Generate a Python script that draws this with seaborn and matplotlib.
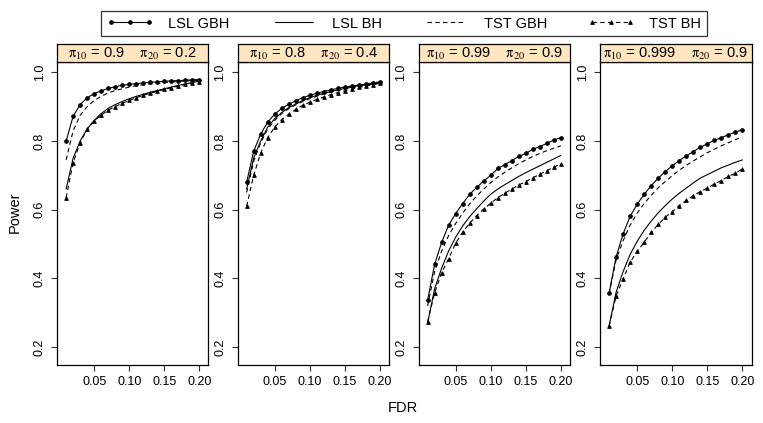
import pandas as pd
import seaborn as sns
import matplotlib.pyplot as plt

# FDR levels on the x axis
fdr = [0.01, 0.02, 0.03, 0.04, 0.05, 0.06, 0.07, 0.08, 0.09, 0.10,
       0.11, 0.12, 0.13, 0.14, 0.15, 0.16, 0.17, 0.18, 0.19, 0.20]

# panel settings
pi10 = ['0.9', '0.8', '0.99', '0.999']
pi20 = ['0.2', '0.4', '0.9', '0.9']

# power values, one list per panel
lsl_gbh = [
    [0.800, 0.872, 0.906, 0.926, 0.938, 0.946, 0.953, 0.958, 0.962, 0.965,
     0.967, 0.969, 0.971, 0.972, 0.974, 0.975, 0.976, 0.977, 0.978, 0.979],
    [0.680, 0.770, 0.820, 0.855, 0.878, 0.895, 0.907, 0.917, 0.926, 0.933,
     0.939, 0.944, 0.949, 0.953, 0.957, 0.960, 0.963, 0.966, 0.969, 0.972],
    [0.337, 0.441, 0.505, 0.555, 0.589, 0.618, 0.645, 0.665, 0.684, 0.700,
     0.720, 0.731, 0.743, 0.755, 0.764, 0.776, 0.784, 0.793, 0.803, 0.810],
    [0.358, 0.463, 0.530, 0.581, 0.616, 0.645, 0.670, 0.692, 0.711, 0.728,
     0.743, 0.757, 0.769, 0.782, 0.792, 0.802, 0.810, 0.818, 0.826, 0.833],
]
lsl_bh = [
    [0.660, 0.750, 0.800, 0.835, 0.860, 0.880, 0.895, 0.906, 0.915, 0.923,
     0.930, 0.936, 0.942, 0.947, 0.952, 0.957, 0.962, 0.966, 0.970, 0.975],
    [0.660, 0.750, 0.800, 0.840, 0.865, 0.883, 0.897, 0.908, 0.918, 0.926,
     0.933, 0.939, 0.944, 0.949, 0.953, 0.957, 0.961, 0.964, 0.967, 0.970],
    [0.270, 0.370, 0.430, 0.480, 0.520, 0.553, 0.580, 0.603, 0.625, 0.645,
     0.660, 0.673, 0.685, 0.697, 0.708, 0.718, 0.728, 0.738, 0.748, 0.758],
    [0.262, 0.360, 0.420, 0.470, 0.508, 0.540, 0.567, 0.591, 0.612, 0.631,
     0.648, 0.663, 0.678, 0.692, 0.702, 0.712, 0.722, 0.730, 0.738, 0.745],
]
tst_gbh = [
    [0.745, 0.830, 0.875, 0.900, 0.918, 0.930, 0.940, 0.947, 0.952, 0.957,
     0.961, 0.964, 0.966, 0.968, 0.970, 0.972, 0.973, 0.975, 0.976, 0.977],
    [0.650, 0.740, 0.795, 0.835, 0.860, 0.880, 0.894, 0.905, 0.915, 0.923,
     0.930, 0.937, 0.942, 0.947, 0.951, 0.955, 0.959, 0.963, 0.966, 0.970],
    [0.320, 0.420, 0.480, 0.525, 0.560, 0.590, 0.617, 0.640, 0.660, 0.679,
     0.695, 0.709, 0.722, 0.734, 0.745, 0.755, 0.764, 0.772, 0.779, 0.786],
    [0.355, 0.455, 0.510, 0.555, 0.590, 0.618, 0.642, 0.664, 0.682, 0.699,
     0.715, 0.729, 0.742, 0.754, 0.766, 0.776, 0.786, 0.795, 0.804, 0.812],
]
tst_bh = [
    [0.635, 0.737, 0.795, 0.835, 0.858, 0.875, 0.890, 0.900, 0.910, 0.918,
     0.926, 0.933, 0.939, 0.945, 0.950, 0.955, 0.960, 0.965, 0.969, 0.973],
    [0.610, 0.700, 0.765, 0.810, 0.840, 0.862, 0.878, 0.892, 0.904, 0.913,
     0.921, 0.928, 0.935, 0.941, 0.946, 0.951, 0.956, 0.960, 0.964, 0.968],
    [0.274, 0.358, 0.417, 0.458, 0.503, 0.535, 0.561, 0.583, 0.602, 0.619,
     0.635, 0.648, 0.660, 0.672, 0.682, 0.693, 0.703, 0.714, 0.724, 0.734],
    [0.262, 0.349, 0.399, 0.447, 0.479, 0.505, 0.534, 0.557, 0.578, 0.594,
     0.612, 0.627, 0.641, 0.653, 0.663, 0.675, 0.685, 0.697, 0.706, 0.719],
]

methods = ['LSL GBH', 'LSL BH', 'TST GBH', 'TST BH']
series = [lsl_gbh, lsl_bh, tst_gbh, tst_bh]
line_styles = {'LSL GBH': ('-', 'o'), 'LSL BH': ('-', None),
               'TST GBH': ((0, (4, 3)), None), 'TST BH': ((0, (4, 3)), '^')}

rows = []
for m, vals in zip(methods, series):
    for p in range(4):
        for x, y in zip(fdr, vals[p]):
            rows.append({'panel': p, 'method': m, 'FDR': x, 'Power': y})
df = pd.DataFrame(rows)

sns.set_style('white')
plt.rcParams['font.family'] = ['Liberation Sans', 'DejaVu Sans']
plt.rcParams['mathtext.fontset'] = 'stix'
plt.rcParams['text.color'] = 'black'
plt.rcParams['xtick.color'] = 'black'
plt.rcParams['ytick.color'] = 'black'

fig = plt.figure(figsize=(7.63, 4.23), dpi=100)
W, H = 763, 423
lefts = [57, 237.5, 418.5, 600]
pw = 151.5
top, bottom = 62, 365
strip_top = 44

axes = []
for p in range(4):
    ax = fig.add_axes([lefts[p] / W, 1 - bottom / H, pw / W, (bottom - top) / H])
    axes.append(ax)
    sub = df[df['panel'] == p]
    for m in methods:
        ls, mk = line_styles[m]
        d = sub[sub['method'] == m]
        sns.lineplot(data=d, x='FDR', y='Power', ax=ax, color='black',
                     linewidth=0.8, marker=mk, markersize=2.7,
                     markeredgewidth=0.6, markeredgecolor='black',
                     label=m, legend=False)
        ax.lines[-1].set_linestyle(ls)
    ax.set_xlim(-0.003, 0.213)
    ax.set_ylim(0.148, 1.03)
    ax.set_xticks([0.05, 0.10, 0.15, 0.20])
    ax.set_xticklabels(['0.05', '0.10', '0.15', '0.20'], fontsize=9)
    ax.set_yticks([0.2, 0.4, 0.6, 0.8, 1.0])
    ax.set_yticklabels(['0.2', '0.4', '0.6', '0.8', '1.0'], fontsize=9,
                       rotation=90, va='center')
    ax.tick_params(axis='both', direction='out', length=4, width=0.8,
                   color='#333333', left=True, bottom=True, pad=4)
    ax.set_xlabel('')
    ax.set_ylabel('')
    for s in ax.spines.values():
        s.set_color('black')
        s.set_linewidth(0.9)

    # strip above the panel
    sax = fig.add_axes([lefts[p] / W, 1 - top / H, pw / W, (top - strip_top) / H])
    sax.set_facecolor('#ffe5c0')
    sax.set_xticks([])
    sax.set_yticks([])
    for s in sax.spines.values():
        s.set_color('black')
        s.set_linewidth(0.9)
    sax.text(0.5, 0.45,
             r'$\mathrm{\pi}_{10}$ = ' + pi10[p] + r'    $\mathrm{\pi}_{20}$ = ' + pi20[p],
             ha='center', va='center', fontsize=10.5,
             transform=sax.transAxes)

fig.text(15 / W, 1 - 212 / H, 'Power', rotation=90, ha='center', va='center',
         fontsize=10.5)
fig.text(403 / W, 1 - 408 / H, 'FDR', ha='center', va='center', fontsize=10.5)

handles, labels = axes[0].get_legend_handles_labels()
leg = fig.legend(handles, labels, ncol=4, mode='expand', numpoints=3,
                 bbox_to_anchor=(101 / W, 1 - 38 / H, 606 / W, 29 / H),
                 loc='center', frameon=True, fancybox=False, handlelength=3.2,
                 borderaxespad=0, prop={'size': 10.5}, borderpad=0.4,
                 edgecolor='black', handletextpad=1.0, columnspacing=2)
leg.get_frame().set_linewidth(0.9)

fig.savefig('out.png', dpi=100)
